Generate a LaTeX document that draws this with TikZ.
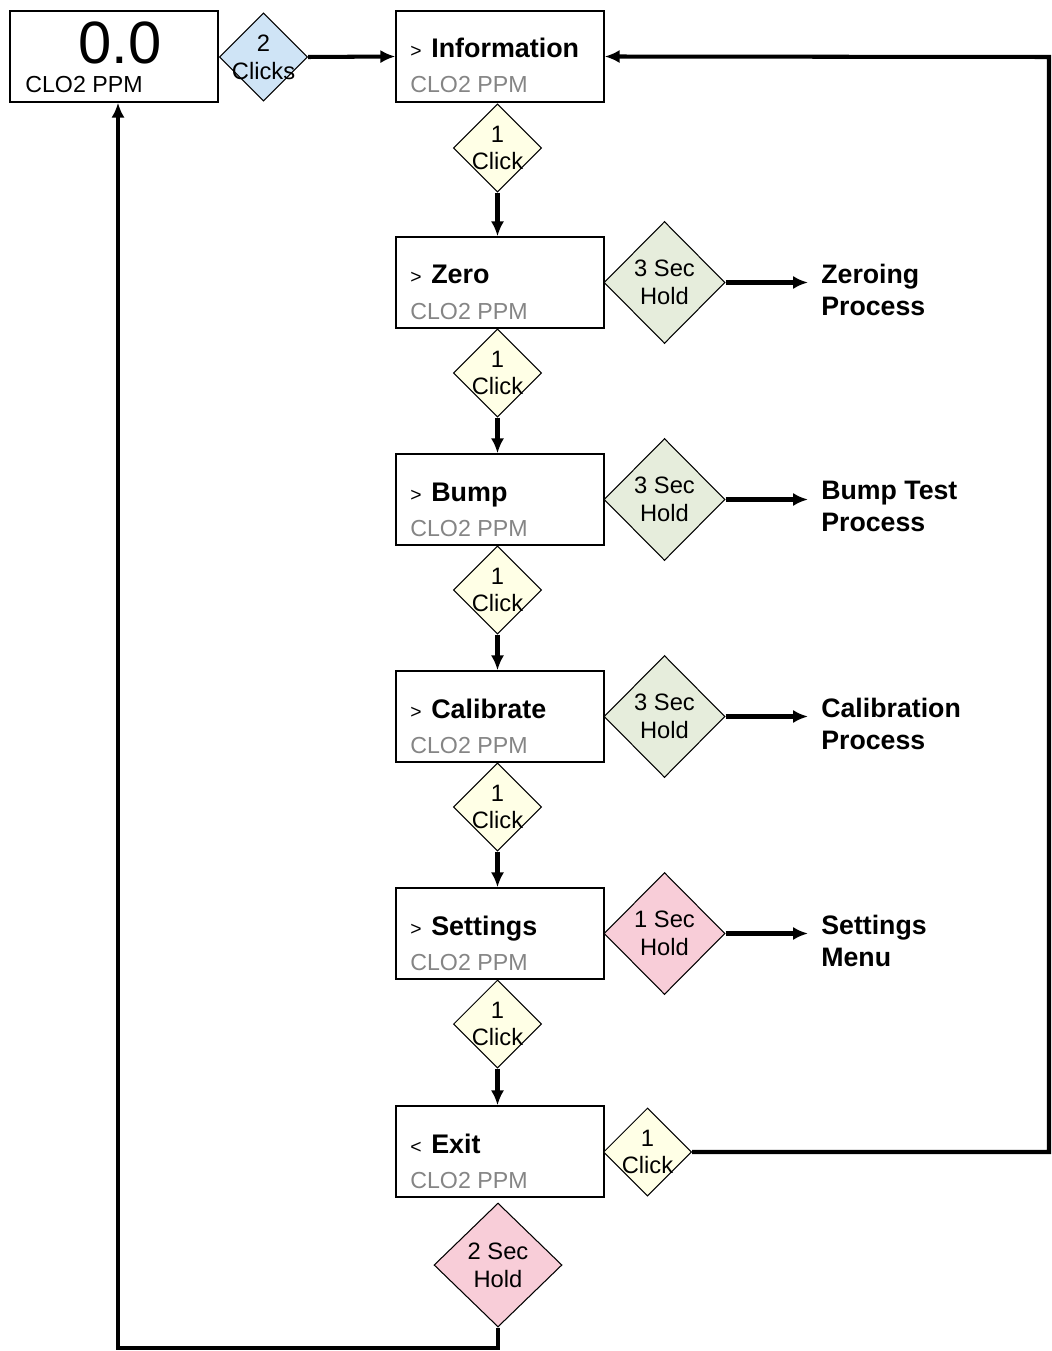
\documentclass[tikz,border=0pt]{standalone}
\usepackage{fontspec}
\setmainfont{Liberation Sans}
\usetikzlibrary{shapes.geometric,arrows.meta,calc}

\definecolor{clickc}{HTML}{FFFFE6}
\definecolor{holdc}{HTML}{E6EDDC}
\definecolor{pinkc}{HTML}{F8CDD8}
\definecolor{bluec}{HTML}{CFE4F6}
\definecolor{ppmc}{HTML}{858585}

\newcommand{\selmark}[1]{{\mdseries\fontsize{11}{13}\selectfont#1}\hspace{5.5pt}}

\begin{document}
\begin{tikzpicture}[x=0.02cm, y=-0.02cm,
                    >={Latex[length=8.5pt,width=7.5pt]},
                    screen/.style={draw, line width=0.8pt, fill=white,
                                   minimum width=4.16cm, minimum height=1.82cm},
                    dia/.style={diamond, draw, line width=0.6pt, inner sep=0pt},
                    click/.style={dia, fill=clickc,
                                  minimum width=1.76cm, minimum height=1.76cm},
                    hold/.style={dia, fill=holdc,
                                 minimum width=2.42cm, minimum height=2.44cm},
                    lbl/.style={align=center, inner sep=0pt,
                                font=\fontsize{13.5}{15.8}\selectfont},
                    ttl/.style={anchor=base west, inner sep=0pt,
                                font=\bfseries\fontsize{15.3}{18}\selectfont},
                    ppm/.style={anchor=base west, inner sep=0pt, text=ppmc,
                                font=\fontsize{13.2}{16}\selectfont},
                    proc/.style={anchor=west, align=left, inner ysep=0pt,
                                 inner xsep=0.26cm,
                                 font=\bfseries\fontsize{15.2}{18.2}\selectfont},
                    conn/.style={->, line width=2.3pt}]
    \useasboundingbox (0,0) rectangle (1051,1351);

    % display
    \node[screen] (disp) at (114,56.5) {};
    \node[anchor=base, inner sep=0pt, font=\fontsize{34}{40}\selectfont] (dispV) at (120,64) {0.0};
    \node[ppm, text=black] (dispP) at (25,93) {CLO2 PPM};
    \node[click, fill=bluec, label={[lbl]center:{2\\Clicks}}] (c0) at (263.5,57) {};

    % menu screens
    \node[screen] (info) at (500,56.5) {};
    \node[ttl] (infoT) at (410,58) {\selmark{>}Information};
    \node[ppm] (infoP) at (410,93) {CLO2 PPM};

    \node[screen] (zero) at (500,282.5) {};
    \node[ttl] (zeroT) at (410,284) {\selmark{>}Zero};
    \node[ppm] (zeroP) at (410,319) {CLO2 PPM};

    \node[screen] (bump) at (500,499.5) {};
    \node[ttl] (bumpT) at (410,501) {\selmark{>}Bump};
    \node[ppm] (bumpP) at (410,536) {CLO2 PPM};

    \node[screen] (calib) at (500,716.5) {};
    \node[ttl] (calibT) at (410,718) {\selmark{>}Calibrate};
    \node[ppm] (calibP) at (410,753) {CLO2 PPM};

    \node[screen] (sett) at (500,933.5) {};
    \node[ttl] (settT) at (410,935) {\selmark{>}Settings};
    \node[ppm] (settP) at (410,970) {CLO2 PPM};

    \node[screen] (exit) at (500,1151.5) {};
    \node[ttl] (exitT) at (410,1153) {\selmark{<}Exit};
    \node[ppm] (exitP) at (410,1188) {CLO2 PPM};

    % clicks between screens
    \node[click, label={[lbl]center:{1\\Click}}] (c1) at (497.5,148) {};
    \node[click, label={[lbl]center:{1\\Click}}] (c2) at (497.5,373) {};
    \node[click, label={[lbl]center:{1\\Click}}] (c3) at (497.5,590) {};
    \node[click, label={[lbl]center:{1\\Click}}] (c4) at (497.5,807) {};
    \node[click, label={[lbl]center:{1\\Click}}] (c5) at (497.5,1024) {};
    \node[click, label={[lbl]center:{1\\Click}}] (c6) at (647.5,1152) {};

    % holds
    \node[hold, label={[lbl]center:{3 Sec\\Hold}}] (h1) at (664.5,282.5) {};
    \node[hold, label={[lbl]center:{3 Sec\\Hold}}] (h2) at (664.5,499.5) {};
    \node[hold, label={[lbl]center:{3 Sec\\Hold}}] (h3) at (664.5,716.5) {};
    \node[hold, fill=pinkc, label={[lbl]center:{1 Sec\\Hold}}] (h4) at (664.5,933.5) {};
    \node[hold, fill=pinkc, minimum width=2.56cm, minimum height=2.48cm,
          label={[lbl]center:{2 Sec\\Hold}}] (h5) at (498,1265) {};

    % processes
    \node[proc] (zproc) at (808,289.5) {Zeroing\\Process};
    \node[proc] (bproc) at (808,506.5) {Bump Test\\Process};
    \node[proc] (cproc) at (808,723.5) {Calibration\\Process};
    \node[proc] (smenu) at (808,940.5) {Settings\\Menu};

    \coordinate (rt) at (1049,57);
    \coordinate (lb) at (118,1348);

    % connectors
    \draw[conn] (c0.east) -- (info.west);
    \draw[conn] (c1.south) -- (c1.south |- zero.north);
    \draw[conn] (c2.south) -- (c2.south |- bump.north);
    \draw[conn] (c3.south) -- (c3.south |- calib.north);
    \draw[conn] (c4.south) -- (c4.south |- sett.north);
    \draw[conn] (c5.south) -- (c5.south |- exit.north);
    \draw[conn] (h1.east) -- (h1.east -| zproc.west);
    \draw[conn] (h2.east) -- (h2.east -| bproc.west);
    \draw[conn] (h3.east) -- (h3.east -| cproc.west);
    \draw[conn] (h4.east) -- (h4.east -| smenu.west);
    \draw[conn] (c6.east) -| (rt) -- (info.east);
    \draw[conn] (h5.south) |- (lb) -- (lb |- disp.south);
\end{tikzpicture}
\end{document}
